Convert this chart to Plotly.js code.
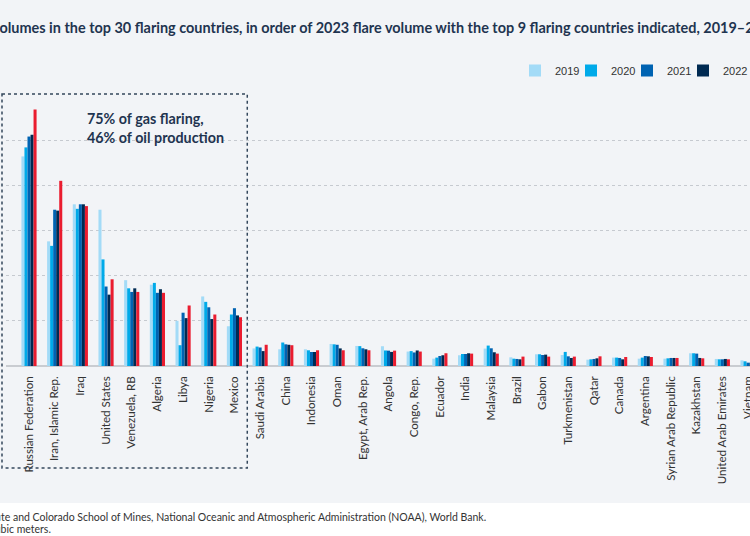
<!DOCTYPE html>
<html><head><meta charset="utf-8">
<script src="https://cdn.plot.ly/plotly-3.0.1.min.js"></script>
<style>
html,body{margin:0;padding:0;width:750px;height:536px;overflow:hidden;background:#fff;}
#frame{position:absolute;left:0;top:0;width:750px;height:536px;overflow:hidden;background:linear-gradient(#f2f4f7 0,#f2f4f7 503px,#ffffff 503px);}
#chart{position:absolute;left:-60px;top:0;width:870px;height:536px;}
</style></head><body><div id="frame"><div id="chart"></div></div>
<script>
const countries = ['Russian Federation','Iran, Islamic Rep.','Iraq','United States','Venezuela, RB','Algeria','Libya','Nigeria','Mexico','Saudi Arabia','China','Indonesia','Oman','Egypt, Arab Rep.','Angola','Congo, Rep.','Ecuador','India','Malaysia','Brazil','Gabon','Turkmenistan','Qatar','Canada','Argentina','Syrian Arab Republic','Kazakhstan','United Arab Emirates','Vietnam'];
const years = ['2019','2020','2021','2022','2023'];
const v2019 = [23.2,13.8,17.9,17.3,9.5,9.0,5.0,7.7,4.4,1.95,1.85,1.85,2.44,2.22,2.19,1.6,0.81,1.19,1.93,0.96,1.3,1.22,0.7,0.93,0.81,0.81,1.41,0.78,0.63];
const v2020 = [24.2,13.3,17.4,11.8,8.6,9.2,2.3,7.1,5.7,2.15,2.6,1.74,2.4,2.2,1.72,1.65,0.93,1.33,2.26,0.81,1.3,1.56,0.74,0.93,0.93,0.85,1.41,0.74,0.52];
const v2021 = [25.4,17.3,17.9,8.8,8.2,8.1,5.9,6.5,6.4,2.05,2.4,1.55,2.35,1.96,1.7,1.5,1.11,1.33,1.96,0.78,1.22,1.07,0.78,0.89,1.11,0.89,1.37,0.74,0.37];
const v2022 = [25.6,17.2,17.9,7.9,8.6,8.5,5.3,5.2,5.6,1.65,2.35,1.55,1.95,1.85,1.56,1.72,1.19,1.41,1.52,0.74,1.26,0.89,0.85,0.74,1.07,0.89,0.89,0.78,0.35];
const v2023 = [28.4,20.5,17.7,9.6,8.2,8.1,6.7,5.7,5.4,2.35,2.3,1.74,1.74,1.74,1.7,1.6,1.41,1.37,1.37,1.04,1.04,1.04,1.07,1.0,1.0,0.89,0.85,0.74,0.4];
const colors = ['#a3dbf7','#00aae9','#0063b2','#002a52','#ea1c2f'];
const yTicks = [0,5,10,15,20,25,30];

const titleText = 'Flare volumes in the top 30 flaring countries, in order of 2023 flare volume with the top 9 flaring countries indicated, 2019–23';
const titlePrefix = 'Flare v';
const sourceText = 'Source: Payne Institute and Colorado School of Mines, National Oceanic and Atmospheric Administration (NOAA), World Bank.';
const sourcePrefix = 'Source: Payne Institu';
const noteText = 'Note: bcm = billion cubic meters.';
const notePrefix = 'Note: bcm = billion cu';
const boxText = '75% of gas flaring,<br>46% of oil production';

// geometry (pixels)
const OFF = 60, DIVW = 870, H = 536;
const ML = OFF + 6, MR = 40, MT = 95, MB = 170;
const PW = DIVW - ML - MR, PH = H - MT - MB;
const spacing = 25.68, firstX = 23;
const r0 = -firstX / spacing, r1 = r0 + PW / spacing;
const FONT = 'Lato, "Open Sans", sans-serif';
const TITLE_SIZE = 14.45, BOX_SIZE = 14.3, NOTE_SIZE = 10.5;

function tw(str, font) {
  const c = document.createElement('canvas').getContext('2d');
  c.font = font; return c.measureText(str).width;
}
const px2paperX = vx => (vx + OFF - ML) / PW;          // viewport x -> paper x
const px2paperY = vy => (H - MB - vy) / PH;            // viewport y -> paper y

const series = [v2019, v2020, v2021, v2022, v2023];
const traces = series.map((vals, k) => ({
  type: 'bar', name: years[k], x: countries, y: vals,
  marker: {color: colors[k], line: {width: 0}},
  hoverinfo: 'x+y+name'
}));

const titleDivX = OFF - tw(titlePrefix, 'bold ' + TITLE_SIZE + 'px Lato');
const srcDivX = -tw(sourcePrefix, NOTE_SIZE + 'px Lato') - 1;
const noteDivX = -tw(notePrefix, NOTE_SIZE + 'px Lato') - 1;

const layout = {
  width: DIVW, height: H,
  margin: {l: ML, r: MR, t: MT, b: MB, pad: 0},
  paper_bgcolor: 'rgba(0,0,0,0)', plot_bgcolor: 'rgba(0,0,0,0)',
  barmode: 'group', bargap: 0.41, bargroupgap: 0,
  showlegend: true,
  title: {text: titleText, xref: 'container', yref: 'container', x: titleDivX / DIVW, xanchor: 'left',
          y: 1 - 28 / H, yanchor: 'middle', font: {family: FONT, size: TITLE_SIZE, color: '#1f3450', weight: 'bold'}},
  legend: {orientation: 'h', x: px2paperX(529 - 14), xanchor: 'left', y: px2paperY(70.5), yanchor: 'middle',
           font: {family: '"Liberation Sans", Arial, sans-serif', size: 11, color: '#333'},
           bgcolor: 'rgba(0,0,0,0)', entrywidth: 11, traceorder: 'normal'},
  xaxis: {type: 'category', range: [r0, r1], tickangle: -90, showgrid: false, showline: false, zeroline: false,
          ticks: '', ticklabelstandoff: 7, tickfont: {family: FONT, size: 11.6, color: '#333'}, fixedrange: true},
  yaxis: {range: [0, 30], tickvals: yTicks, showgrid: true, gridcolor: '#c6cad0', griddash: 'dot', gridwidth: 1,
          zeroline: true, zerolinecolor: '#c9ccd1', zerolinewidth: 2, showline: false, ticks: '',
          ticklabelstandoff: 24, tickfont: {family: FONT, size: 11, color: '#333'}, fixedrange: true},
  shapes: [{type: 'rect', xref: 'paper', yref: 'paper',
            x0: px2paperX(2), x1: (8.5 - r0) / (r1 - r0),
            y0: px2paperY(94), y1: px2paperY(468),
            line: {color: '#34475c', width: 1.5, dash: 'dot'}, fillcolor: 'rgba(0,0,0,0)', layer: 'above'}],
  annotations: [
    {text: boxText, xref: 'paper', yref: 'paper', x: px2paperX(85), y: px2paperY(108), xanchor: 'left', yanchor: 'top',
     align: 'left', showarrow: false, font: {family: FONT, size: BOX_SIZE, color: '#1f3450', weight: 'bold'}},
    {text: sourceText, xref: 'paper', yref: 'paper', x: (srcDivX + OFF - ML) / PW, y: px2paperY(517), xanchor: 'left', yanchor: 'middle',
     showarrow: false, font: {family: FONT, size: NOTE_SIZE, color: '#333'}},
    {text: noteText, xref: 'paper', yref: 'paper', x: (noteDivX + OFF - ML) / PW, y: px2paperY(529), xanchor: 'left', yanchor: 'middle',
     showarrow: false, font: {family: FONT, size: NOTE_SIZE, color: '#333'}}
  ]
};
Plotly.newPlot('chart', traces, layout, {displayModeBar: false, staticPlot: true});
</script></body></html>
